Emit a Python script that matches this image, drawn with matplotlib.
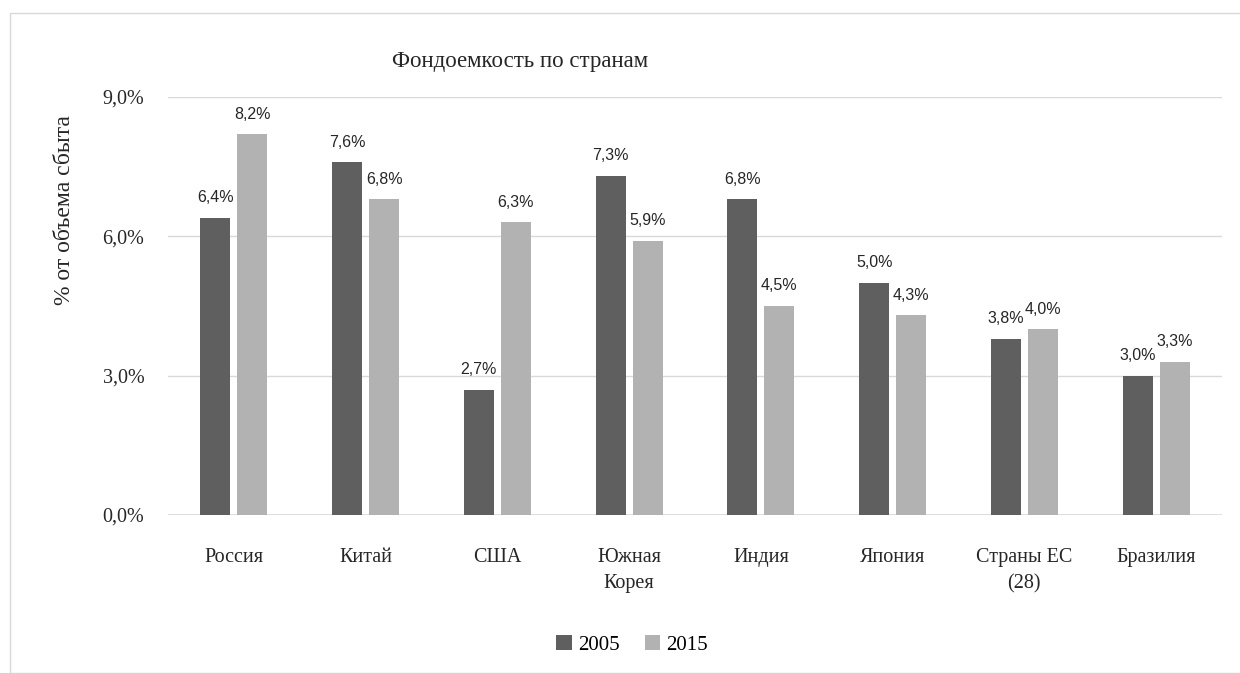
#!/usr/bin/env python

import numpy as np
import matplotlib
matplotlib.use('agg')
import matplotlib.pyplot as plt
from matplotlib.patches import Rectangle
from matplotlib.ticker import FuncFormatter

countries = ['Россия', 'Китай', 'США', 'Южная\nКорея', 'Индия', 'Япония',
             'Страны ЕС\n(28)', 'Бразилия']
v2005 = [6.4, 7.6, 2.7, 7.3, 6.8, 5.0, 3.8, 3.0]
v2015 = [8.2, 6.8, 6.3, 5.9, 4.5, 4.3, 4.0, 3.3]
years = ['2005', '2015']

serif = ['Liberation Serif', 'DejaVu Serif']
narrow = ['Liberation Sans Narrow', 'Liberation Sans', 'DejaVu Sans']

fig = plt.figure(figsize=(12.4, 6.73), dpi=100)
fig.patches.append(Rectangle((10 / 1240, 0), 1.0, 1 - 13 / 673, transform=fig.transFigure,
                             fill=False, edgecolor='#d9d9d9', linewidth=1.0))

ax = fig.add_axes([168 / 1240, 1 - 515 / 673, (1222 - 168) / 1240, (515 - 97) / 673])

x = np.arange(len(countries))
w = 0.228
off = 0.14
b1 = ax.bar(x - off, v2005, w, color='#5f5f5f', label=years[0], zorder=3)
b2 = ax.bar(x + off, v2015, w, color='#b2b2b2', label=years[1], zorder=3)

for bars, vals in ((b1, v2005), (b2, v2015)):
    for bar, v in zip(bars, vals):
        ax.annotate('{:.1f}%'.format(v).replace('.', ','),
                    (bar.get_x() + bar.get_width() / 2, v), xytext=(0, 9),
                    textcoords='offset points', ha='center', va='bottom',
                    fontsize=11.5, family=narrow, color='#262626')

ax.set_xlim(-0.5, len(countries) - 0.5)
ax.set_ylim(0, 9.0)
ax.set_yticks([0, 3, 6, 9])
ax.yaxis.set_major_formatter(FuncFormatter(lambda v, p: '{:.1f}%'.format(v).replace('.', ',')))
ax.set_xticks(x)
ax.set_xticklabels(countries, family=serif, fontsize=14.5, linespacing=1.45)
for lab in ax.get_yticklabels():
    lab.set_family(serif)
    lab.set_fontsize(14.5)
ax.tick_params(length=0, pad=17, colors='#262626')
ax.tick_params(axis='x', pad=24)
ax.grid(axis='y', color='#d9d9d9', linewidth=1.0, zorder=0)
for s in ax.spines.values():
    s.set_visible(False)
ax.axhline(0, color='#d9d9d9', linewidth=1.2, zorder=2)

ax.set_ylabel('% от объема сбыта', family=serif, fontsize=17, color='#262626')
ax.yaxis.set_label_coords(-0.088, 0.73)
fig.text(520 / 1240, 1 - 62 / 673, 'Фондоемкость по странам', family=serif,
         fontsize=16.5, ha='center', va='center', color='#262626')

fig.legend(handles=[b1, b2], loc='center', bbox_to_anchor=(632 / 1240, 1 - 645 / 673),
           ncol=2, frameon=False, prop={'family': serif, 'size': 15},
           handlelength=0.75, handleheight=0.75, handletextpad=0.3, columnspacing=1.2)

plt.savefig('out.png', dpi=100)
